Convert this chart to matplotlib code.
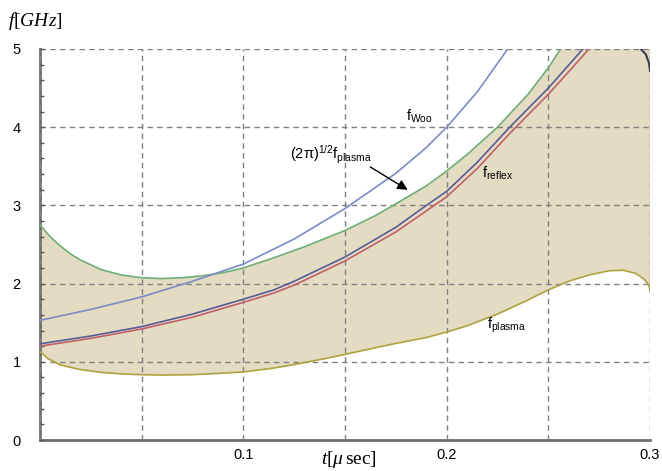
import numpy as np
import matplotlib
matplotlib.use("Agg")
import matplotlib.pyplot as plt
from matplotlib.ticker import MultipleLocator

# values (t in usec, f in GHz)
t_plasma = [0, 0.004, 0.01, 0.02, 0.03, 0.04, 0.05, 0.06, 0.075, 0.09, 0.1, 0.115,
            0.125, 0.14, 0.15, 0.165, 0.175, 0.19, 0.2, 0.21, 0.225, 0.24, 0.25,
            0.26, 0.27, 0.28, 0.287, 0.293, 0.297, 0.2995, 0.3]
f_plasma = [1.13, 1.04, 0.96, 0.9, 0.865, 0.845, 0.835, 0.83, 0.835, 0.855, 0.87, 0.92,
            0.965, 1.04, 1.095, 1.18, 1.235, 1.31, 1.38, 1.46, 1.61, 1.79, 1.92,
            2.03, 2.11, 2.165, 2.17, 2.13, 2.06, 1.98, 1.9]

t_upper = [0, 0.005, 0.01, 0.015, 0.02, 0.03, 0.04, 0.05, 0.06, 0.07, 0.08, 0.09,
           0.1, 0.115, 0.13, 0.15, 0.165, 0.175, 0.19, 0.2, 0.21, 0.225, 0.24,
           0.25, 0.256]
f_upper = [2.75, 2.6, 2.48, 2.38, 2.3, 2.18, 2.11, 2.075, 2.065, 2.075, 2.1, 2.14,
           2.2, 2.33, 2.47, 2.68, 2.87, 3.02, 3.25, 3.44, 3.65, 4.0, 4.42,
           4.76, 5.0]

t_woo = [0, 0.025, 0.05, 0.075, 0.1, 0.125, 0.15, 0.175, 0.19, 0.2, 0.215, 0.23]
f_woo = [1.53, 1.67, 1.83, 2.03, 2.25, 2.57, 2.96, 3.41, 3.74, 4.0, 4.45, 5.0]

t_reflex = [0, 0.025, 0.05, 0.075, 0.1, 0.115, 0.125, 0.15, 0.175, 0.19, 0.2, 0.215,
            0.231, 0.25, 0.267]
f_reflex = [1.23, 1.33, 1.45, 1.61, 1.8, 1.92, 2.03, 2.34, 2.72, 3.0, 3.18, 3.55,
            4.0, 4.5, 5.0]

t_reflex2 = [0, 0.025, 0.05, 0.075, 0.1, 0.115, 0.125, 0.15, 0.175, 0.19, 0.2, 0.215,
             0.231, 0.25, 0.27]
f_reflex2 = [1.2, 1.3, 1.42, 1.57, 1.76, 1.88, 1.98, 2.29, 2.66, 2.93, 3.11, 3.47,
             3.92, 4.42, 5.0]

t_hook = [0.2955, 0.298, 0.2995, 0.3]
f_hook = [5.0, 4.93, 4.82, 4.72]

x_ticks = [0, 0.05, 0.1, 0.15, 0.2, 0.25, 0.3]
x_ticklabels = ['', '', '0.1', '', '0.2', '', '0.3']
y_ticks = [0, 1, 2, 3, 4, 5]

plt.rcParams['font.family'] = ['Liberation Sans', 'DejaVu Sans']
plt.rcParams['mathtext.fontset'] = 'custom'
plt.rcParams['mathtext.rm'] = 'Liberation Serif'
plt.rcParams['mathtext.it'] = 'Liberation Serif:italic'

fig = plt.figure(figsize=(6.62, 4.71), dpi=100)
ax = fig.add_axes([40/662, 1 - 440/471, 610/662, 391/471])

# shaded band between f_plasma and sqrt(2pi) f_plasma, clipped at 5
poly_t = list(t_plasma) + [0.3] + list(t_upper[::-1])
poly_f = list(f_plasma) + [5.0] + list(f_upper[::-1])
ax.fill(poly_t, poly_f, color='#e3dcc2', lw=0, zorder=1)

ax.plot(t_plasma, f_plasma, color='#ada23e', lw=1.2, zorder=3)
ax.plot(t_upper, f_upper, color='#6fae78', lw=1.2, zorder=3)
ax.plot(t_woo, f_woo, color='#7c8bc6', lw=1.2, zorder=3)
ax.plot(t_reflex2, f_reflex2, color='#c0606a', lw=1.2, zorder=3)
ax.plot(t_reflex, f_reflex, color='#575c98', lw=1.2, zorder=4)
ax.plot(t_hook, f_hook, color='#3a3a50', lw=1.5, zorder=4)

ax.set_xlim(0, 0.3)
ax.set_ylim(0, 5)
ax.set_xticks(x_ticks)
ax.set_xticklabels(x_ticklabels)
ax.set_yticks(y_ticks)
ax.yaxis.set_minor_locator(MultipleLocator(0.2))
ax.tick_params(axis='x', length=0, pad=6, labelsize=10.5)
ax.tick_params(axis='y', which='both', direction='in', length=3, width=1,
               color='#555555', pad=14, labelsize=10.5)
ax.grid(True, which='major', linestyle=(0, (4, 3)), color='#808080', lw=1, zorder=2)
ax.set_axisbelow(False)

for side in ['top', 'right']:
    ax.spines[side].set_visible(False)
for side in ['left', 'bottom']:
    ax.spines[side].set_color('#6e6e6e')
    ax.spines[side].set_linewidth(2)

# annotations
ax.text(0.180, 4.14, r'$\mathregular{f_{Woo}}$', fontsize=10.5, va='center', ha='left')
ax.text(0.2174, 3.41, r'$\mathregular{f_{reflex}}$', fontsize=10.5, va='center', ha='left')
ax.text(0.220, 1.47, r'$\mathregular{f_{plasma}}$', fontsize=10.5, va='center', ha='left')
ax.text(0.123, 3.64, r'$\mathregular{(2π)^{1/2}f_{plasma}}$', fontsize=10.5,
        va='center', ha='left')
ax.annotate('', xy=(0.182, 3.18), xytext=(0.1613, 3.51),
            arrowprops=dict(arrowstyle='-|>', color='black', lw=1,
                            mutation_scale=15), zorder=6)

fig.text(35/662, 1 - 21/471, r'$f[GHz]$', fontsize=14, ha='center', va='center')
fig.text(349/662, 1 - 460/471, r'$t[\mu\,\mathrm{sec}]$', fontsize=14,
         ha='center', va='center')

fig.savefig('out.png', dpi=100)
